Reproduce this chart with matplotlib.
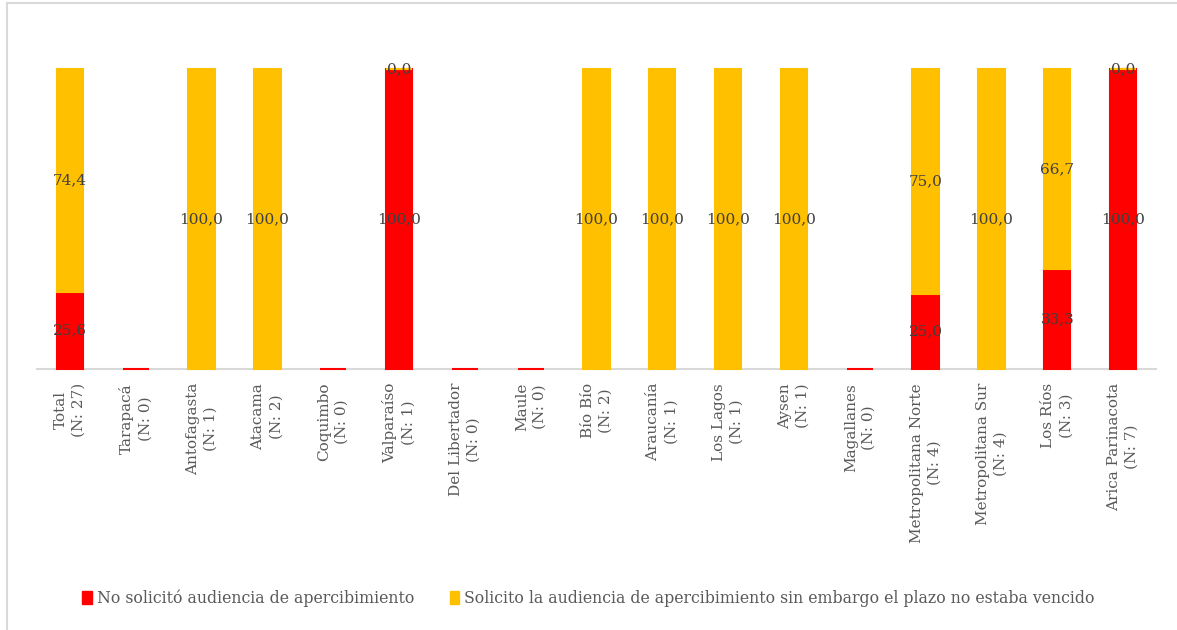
import numpy as np
import matplotlib
matplotlib.use("Agg")
import matplotlib.pyplot as plt
from matplotlib.lines import Line2D
from matplotlib.patches import Patch

nan = np.nan

regions = ["Total", "Tarapacá", "Antofagasta", "Atacama", "Coquimbo", "Valparaíso",
           "Del Libertador", "Maule", "Bío Bío", "Araucanía", "Los Lagos", "Aysen",
           "Magallanes", "Metropolitana Norte", "Metropolitana Sur", "Los Ríos",
           "Arica Parinacota"]
n_cases = [27, 0, 1, 2, 0, 1, 0, 0, 2, 1, 1, 1, 0, 4, 4, 3, 7]

no_solicito = [25.6, 0, nan, nan, 0, 100.0, 0, 0, nan, nan, nan, nan, 0, 25.0, nan, 33.3, 100.0]
solicito = [74.4, nan, 100.0, 100.0, nan, 0.0, nan, nan, 100.0, 100.0, 100.0, 100.0, nan, 75.0, 100.0, 66.7, 0.0]

series_names = ["No solicitó audiencia de apercibimiento",
                "Solicito la audiencia de apercibimiento sin embargo el plazo no estaba vencido"]

red = "#FF0000"
yellow = "#FFC000"
txt = "#595959"
lbl = "#404040"

plt.rcParams['font.family'] = ['DejaVu Serif']

W, H = 1177, 630
fig = plt.figure(figsize=(W / 100, H / 100), dpi=100)
ax = fig.add_axes([37 / W, (H - 369) / H, (1156 - 37) / W, 300 / H])

x = np.arange(len(regions))
red_a = np.array(no_solicito, dtype=float)
yel_a = np.array(solicito, dtype=float)
has_red = ~np.isnan(red_a)
has_yel = ~np.isnan(yel_a)
red_base = np.nan_to_num(red_a)

ax.bar(x[has_red], red_a[has_red], width=0.4, color=red, edgecolor=red,
       linewidth=1.5, zorder=2, clip_on=False)
ax.bar(x[has_yel], yel_a[has_yel], width=0.4, bottom=red_base[has_yel], color=yellow,
       edgecolor=yellow, linewidth=1.5, zorder=2, clip_on=False)

def fmt(v):
    return f"{v:.1f}".replace(".", ",")

for i in range(len(regions)):
    if n_cases[i] == 0:
        continue
    if has_red[i]:
        ax.text(x[i], red_a[i] / 2, fmt(red_a[i]), ha="center", va="center",
                fontsize=11, color=lbl, zorder=4)
    if has_yel[i]:
        ax.text(x[i], red_base[i] + yel_a[i] / 2, fmt(yel_a[i]), ha="center",
                va="center", fontsize=11, color=lbl, zorder=4, clip_on=False)

ax.set_xlim(-0.5, len(regions) - 0.5)
ax.set_ylim(0, 100)
ax.set_yticks([])
ax.set_xticks(x)
ax.set_xticklabels([f"{r}\n(N: {n})" for r, n in zip(regions, n_cases)],
                   rotation=90, fontsize=11, color=txt, linespacing=1.35)
ax.tick_params(axis="x", length=0, pad=10)
for sp in ["top", "right", "left"]:
    ax.spines[sp].set_visible(False)
ax.spines["bottom"].set_color("#D9D9D9")
ax.spines["bottom"].set_linewidth(1.5)
ax.spines["bottom"].set_zorder(1)

handles = [Patch(facecolor=red, edgecolor=red), Patch(facecolor=yellow, edgecolor=yellow)]
fig.legend(handles, series_names, loc="center", bbox_to_anchor=(0.5, (H - 598) / H),
           ncol=2, frameon=False, fontsize=11.3, labelcolor=txt, handlelength=0.6,
           handleheight=0.9, handletextpad=0.3, columnspacing=2.3)

# chart area border
fig.add_artist(Line2D([7 / W, 7 / W], [0, (H - 3) / H], color="#D9D9D9", lw=1.5))
fig.add_artist(Line2D([7 / W, 1], [(H - 3) / H, (H - 3) / H], color="#D9D9D9", lw=1.5))

fig.savefig("out.png", dpi=100)
